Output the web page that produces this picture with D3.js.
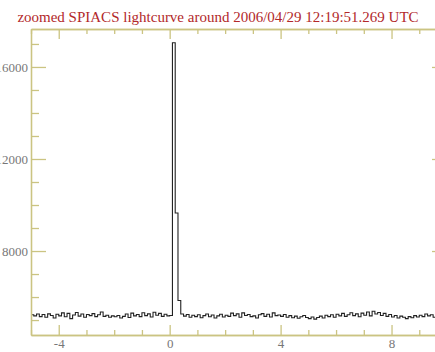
<!DOCTYPE html>
<html>
<head>
<meta charset="utf-8">
<script src="https://cdn.jsdelivr.net/npm/d3@7"></script>
<style>
  html, body { margin: 0; padding: 0; background: #fff; overflow: hidden; }
  svg { display: block; }
</style>
</head>
<body>
<svg id="chart" width="435" height="352"></svg>
<script>
// SPI-ACS lightcurve, 0.1 s bins starting at -5 s relative to trigger
const binStart = -5.0;
const binWidth = 0.1;
const counts = [
  5230, 5180, 5260, 5150, 5240, 5120, 5270, 5200, 5090, 5250,
  5180, 5310, 5140, 5290, 5060, 5220, 5330, 5170, 5260, 5120,
  5240, 5190, 5280, 5150, 5230, 5350, 5160, 5210, 5120, 5180,
  5140, 5200, 5090, 5160, 5260, 5110, 5300, 5180, 5240, 5150,
  5320, 5190, 5270, 5130, 5340, 5210, 5290, 5160, 5250, 5180,
  5200, 17050, 9650, 5850, 5260, 5170, 5240, 5120, 5210, 5150,
  5230, 5100, 5190, 5260, 5140, 5220, 5090, 5180, 5250, 5130,
  5210, 5160, 5300, 5190, 5270, 5120, 5310, 5200, 5240, 5150,
  5180, 5090, 5230, 5280, 5160, 5250, 5130, 5310, 5190, 5220,
  5160, 5240, 5120, 5190, 5100, 5170, 5080, 5140, 5200, 5110,
  5060, 5130, 5040, 5110, 5170, 5090, 5210, 5150, 5230, 5120,
  5250, 5180, 5290, 5160, 5230, 5320, 5190, 5270, 5140, 5300,
  5210, 5350, 5180, 5380, 5260, 5330, 5200, 5290, 5160, 5240,
  5130, 5200, 5090, 5170, 5120, 5060, 5150, 5100, 5190, 5130,
  5210, 5150, 5260, 5180, 5230, 5120, 5200, 5280, 5170, 5220
];

const xDomain = [-5, 10];
const yDomain = [4350, 17650];
const xMajorTicks = [-4, 0, 4, 8];
const xMinorTicks = [-5, -3, -2, -1, 1, 2, 3, 5, 6, 7, 9, 10];
const yMajorTicks = [8000, 12000, 16000];
const yMinorTicks = [5000, 6000, 7000, 9000, 10000, 11000, 13000, 14000, 15000, 17000];
const title = "zoomed SPIACS lightcurve around 2006/04/29 12:19:51.269 UTC";

const plot = { left: 31, right: 447, top: 29, bottom: 335 };
const axisColor = "#cbc482";
const labelColor = "#777";
const serif = "'Liberation Serif', 'DejaVu Serif', serif";

const svg = d3.select("#chart");

const x = d3.scaleLinear().domain(xDomain).range([plot.left, plot.right]);
const y = d3.scaleLinear().domain(yDomain).range([plot.bottom, plot.top]);

// Title
svg.append("text")
  .attr("x", 218)
  .attr("y", 22)
  .attr("text-anchor", "middle")
  .attr("font-family", serif)
  .attr("font-size", 15)
  .attr("fill", "#b2282a")
  .text(title);

// Lightcurve as a step line
svg.append("clipPath").attr("id", "plotClip")
  .append("rect")
  .attr("x", plot.left).attr("y", plot.top)
  .attr("width", plot.right - plot.left).attr("height", plot.bottom - plot.top);

const points = counts.map((c, i) => [binStart + i * binWidth, c]);
points.push([binStart + counts.length * binWidth, counts[counts.length - 1]]);

const line = d3.line()
  .x(d => x(d[0]))
  .y(d => y(d[1]))
  .curve(d3.curveStepAfter);

svg.append("path")
  .attr("clip-path", "url(#plotClip)")
  .attr("d", line(points))
  .attr("fill", "none")
  .attr("stroke", "#222")
  .attr("stroke-width", 1.1);

// Axes: majors carry labels, minors are shorter ticks
function styleAxis(g) {
  g.selectAll("path.domain").attr("stroke", axisColor).attr("stroke-width", 1.3);
  g.selectAll(".tick line").attr("stroke", axisColor).attr("stroke-width", 1.3);
  g.selectAll(".tick text")
    .attr("font-family", serif)
    .attr("font-size", 13)
    .attr("fill", labelColor);
}

// plain ASCII hyphen for negative numbers
const fmt = d => String(d);

// bottom
svg.append("g").attr("transform", `translate(0,${plot.bottom})`)
  .call(d3.axisBottom(x).tickValues(xMinorTicks).tickSize(-5).tickFormat("").tickSizeOuter(0))
  .call(styleAxis);
svg.append("g").attr("transform", `translate(0,${plot.bottom})`)
  .call(d3.axisBottom(x).tickValues(xMajorTicks).tickSize(-10).tickPadding(4).tickFormat(fmt).tickSizeOuter(0))
  .call(styleAxis);

// top
svg.append("g").attr("transform", `translate(0,${plot.top})`)
  .call(d3.axisTop(x).tickValues(xMinorTicks).tickSize(-5).tickFormat("").tickSizeOuter(0))
  .call(styleAxis);
svg.append("g").attr("transform", `translate(0,${plot.top})`)
  .call(d3.axisTop(x).tickValues(xMajorTicks).tickSize(-10).tickFormat("").tickSizeOuter(0))
  .call(styleAxis);

// left
svg.append("g").attr("transform", `translate(${plot.left},0)`)
  .call(d3.axisLeft(y).tickValues(yMinorTicks).tickSize(-8).tickFormat("").tickSizeOuter(0))
  .call(styleAxis);
svg.append("g").attr("transform", `translate(${plot.left},0)`)
  .call(d3.axisLeft(y).tickValues(yMajorTicks).tickSize(-15).tickPadding(3).tickFormat(fmt).tickSizeOuter(0))
  .call(styleAxis);

// right
svg.append("g").attr("transform", `translate(${plot.right},0)`)
  .call(d3.axisRight(y).tickValues(yMinorTicks).tickSize(-8).tickFormat("").tickSizeOuter(0))
  .call(styleAxis);
svg.append("g").attr("transform", `translate(${plot.right},0)`)
  .call(d3.axisRight(y).tickValues(yMajorTicks).tickSize(-15).tickFormat("").tickSizeOuter(0))
  .call(styleAxis);
</script>
</body>
</html>
